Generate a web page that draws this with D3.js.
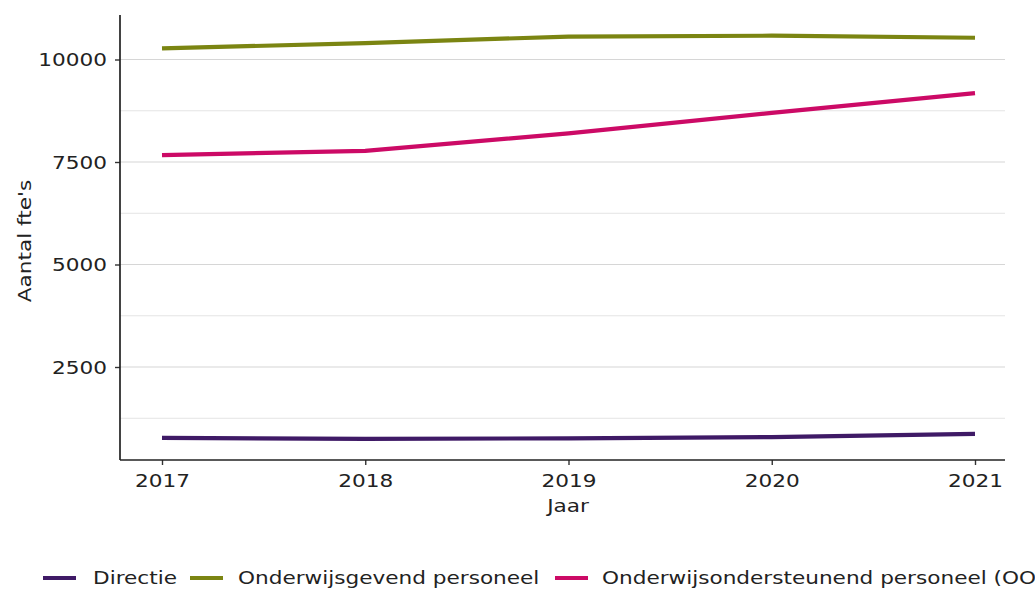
<!DOCTYPE html>
<html>
<head>
<meta charset="utf-8">
<script src="https://cdn.jsdelivr.net/npm/d3@7"></script>
<style>
  html, body { margin: 0; padding: 0; background: #fff; }
  svg { display: block; font-family: "DejaVu Sans", Verdana, sans-serif; }
</style>
</head>
<body>
<svg id="chart" width="1035" height="590"></svg>
<script>
const years = [2017, 2018, 2019, 2020, 2021];
const directie = [770, 745, 760, 790, 870];
const onderwijsgevend = [10270, 10400, 10560, 10580, 10530];
const onderwijsondersteunend = [7670, 7770, 8200, 8700, 9180];
const seriesNames = ["Directie", "Onderwijsgevend personeel", "Onderwijsondersteunend personeel (OOP)"];
const seriesColors = ["#3f1a66", "#7b8512", "#cc0a66"];
const yTicks = [2500, 5000, 7500, 10000];
const yMinor = [1250, 3750, 6250, 8750];

const seriesValues = [directie, onderwijsgevend, onderwijsondersteunend];

const svg = d3.select("#chart");
const x = d3.scaleLinear().domain([2017, 2021]).range([162, 975]);
const y = d3.scaleLinear().domain([0, 10000]).range([469.5, 59.5]);

const plotLeft = 120, plotRight = 1005, plotTop = 15, plotBottom = 460;
const FS = 18, SX = 1.2, TXT = "#222";

// gridlines
svg.append("g").selectAll("line").data(yMinor).join("line")
  .attr("x1", plotLeft).attr("x2", plotRight)
  .attr("y1", d => y(d)).attr("y2", d => y(d))
  .attr("stroke", "#e4e4e4").attr("stroke-width", 1);
svg.append("g").selectAll("line").data(yTicks).join("line")
  .attr("x1", plotLeft).attr("x2", plotRight)
  .attr("y1", d => y(d)).attr("y2", d => y(d))
  .attr("stroke", "#d6d6d6").attr("stroke-width", 1.2);

// lines
const line = d3.line().x((d, i) => x(years[i])).y(d => y(d)).curve(d3.curveLinear);
seriesValues.forEach((vals, k) => {
  svg.append("path").datum(vals)
    .attr("d", line)
    .attr("fill", "none")
    .attr("stroke", seriesColors[k])
    .attr("stroke-width", 4.2)
    .attr("stroke-linejoin", "round")
    .attr("stroke-linecap", "butt");
});

// axes
const yAxis = d3.axisLeft(y).tickValues(yTicks).tickSize(5).tickFormat(d3.format("d"));
const gy = svg.append("g").attr("transform", `translate(${plotLeft},0)`).call(yAxis);
gy.select(".domain").remove();
gy.selectAll(".tick line").attr("stroke", "#333").attr("stroke-width", 1.4);
gy.selectAll(".tick text").attr("font-size", FS).attr("fill", TXT)
  .attr("font-family", "DejaVu Sans, Verdana, sans-serif")
  .attr("x", 0).attr("dy", "0.35em")
  .attr("transform", `translate(-13,0) scale(${SX},1)`);
svg.append("line").attr("x1", plotLeft).attr("x2", plotLeft).attr("y1", plotTop).attr("y2", plotBottom)
  .attr("stroke", "#222").attr("stroke-width", 1.7);

const xAxis = d3.axisBottom(x).tickValues(years).tickSize(5).tickFormat(d3.format("d"));
const gx = svg.append("g").attr("transform", `translate(0,${plotBottom})`).call(xAxis);
gx.select(".domain").remove();
gx.selectAll(".tick line").attr("stroke", "#333").attr("stroke-width", 1.4);
gx.selectAll(".tick text").attr("font-size", FS).attr("fill", TXT)
  .attr("font-family", "DejaVu Sans, Verdana, sans-serif")
  .attr("y", 0).attr("dy", 0)
  .attr("transform", `translate(0,27) scale(${SX},1)`);
svg.append("line").attr("x1", plotLeft).attr("x2", plotRight).attr("y1", plotBottom).attr("y2", plotBottom)
  .attr("stroke", "#222").attr("stroke-width", 1.7);

// axis titles
svg.append("text").attr("transform", `translate(568,512) scale(${SX},1)`).attr("text-anchor", "middle")
  .attr("font-size", FS).attr("fill", TXT).text("Jaar");
svg.append("text").attr("transform", `translate(31,241) rotate(-90) scale(${SX},1)`).attr("text-anchor", "middle")
  .attr("font-size", FS).attr("fill", TXT).text("Aantal fte's");

// legend
const legendKeyX = [43, 190, 555];
const legendTextX = [93, 238, 602];
const lg = svg.append("g");
seriesNames.forEach((name, k) => {
  lg.append("line").attr("x1", legendKeyX[k]).attr("x2", legendKeyX[k] + 33)
    .attr("y1", 578).attr("y2", 578)
    .attr("stroke", seriesColors[k]).attr("stroke-width", 4.2);
  lg.append("text").attr("transform", `translate(${legendTextX[k]},584) scale(${SX},1)`)
    .attr("font-size", FS).attr("fill", TXT).text(name);
});
</script>
</body>
</html>
